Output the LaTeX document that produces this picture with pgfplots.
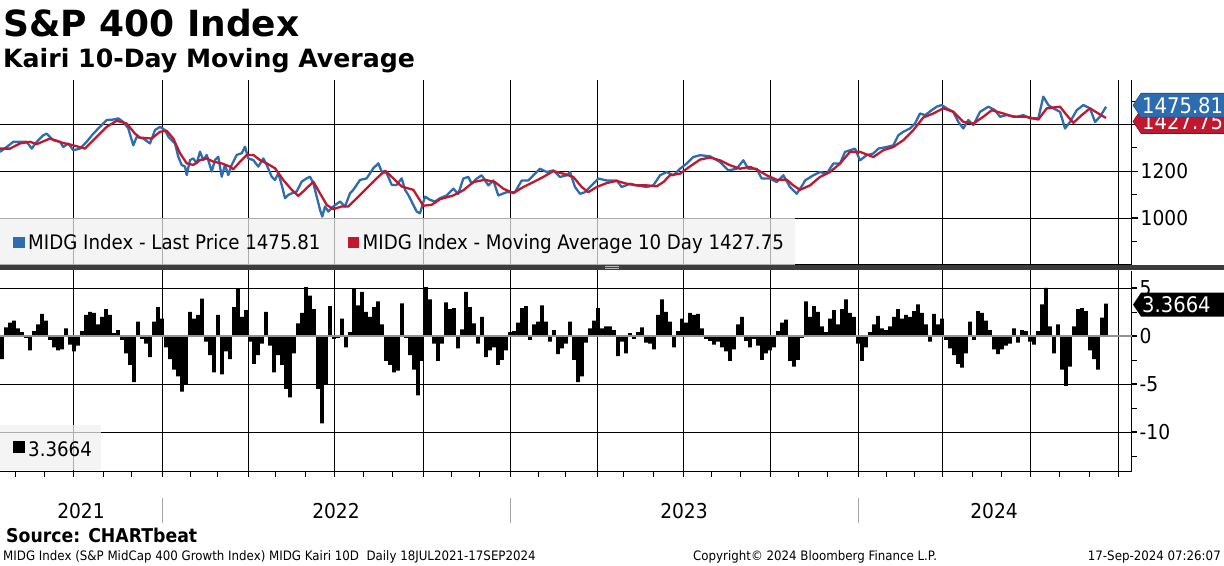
\documentclass[border=0pt]{standalone}
\usepackage{pgfplots}
\pgfplotsset{compat=1.18}
\usepackage{fontspec}
\setmainfont{DejaVu Sans}[FakeStretch=0.91]
\newfontfamily\boldf{DejaVu Sans Bold}
\definecolor{bbblue}{HTML}{2D6CAF}
\definecolor{bbblueD}{HTML}{1F4F85}
\definecolor{bbred}{HTML}{C0182F}
\definecolor{sepgray}{HTML}{3C3C3C}
\definecolor{legfill}{HTML}{F0F0F0}
\newcommand\fs[1]{\fontsize{#1bp}{#1bp}\selectfont}
\pgfplotsset{
  bbpanel/.style={
    anchor=south west, at={(0,0)}, scale only axis,
    width=1131.5bp, xmin=0, xmax=1131.5,
    axis y line*=right, axis x line*=bottom,
    axis line style={black, line width=1bp},
    xtick={73.5,162,248,334,423,510,597,683,770,858,942,1030,1118},
    xticklabels={},
    xmajorgrids, ymajorgrids,
    major grid style={black, line width=0.9bp},
    tick align=outside,
    every tick/.style={black, line width=1bp},
    ytick style={black, line width=1.6bp},
    minor y tick style={black, line width=0.9bp},
    yticklabel style={font=\fs{20.5}, inner sep=0pt, anchor=west, xshift=3bp},
    /pgf/number format/assume math mode=true,
    clip=false,
  }
}

\begin{document}
\begin{tikzpicture}[x=1bp,y=1bp]
\useasboundingbox (0,0) rectangle (1224,566);
\fill[white] (0,0) rectangle (1224,566);

%================ TOP PANEL =================
\begin{scope}[shift={(0bp,301bp)}]
\begin{axis}[bbpanel,
  height=185bp, ymin=800, ymax=1590,
  ytick={1000,1200,1400},
  yticklabels={1000,1200,{}},
  minor ytick={900,1100,1300,1500},
  major tick length=6bp, minor tick length=5bp,
]
\addplot[bbblue, line width=2.3bp, line join=round] table {
x y
0 1283
6.7 1304
13.3 1326
20 1326
26.7 1326
31.7 1297
36.7 1326
43.3 1354
46.7 1361
53.3 1333
60 1326
63.3 1304
68.3 1319
73.3 1290
80 1297
86.7 1326
93.3 1361
100 1390
106.7 1419
113.3 1421
118.3 1426
123.3 1411
128.3 1383
133.3 1311
136.7 1347
143.3 1340
150 1319
155 1376
160 1390
165 1376
168.3 1348
171.7 1333
175 1319
178.3 1262
181.7 1227
185 1220
186.7 1184
190 1248
193.3 1255
196.7 1234
200 1284
203.3 1248
206.7 1270
211.7 1199
215 1248
218.3 1262
221.7 1177
225 1227
228.3 1184
231.7 1227
236.7 1270
241.7 1277
245 1305
248.3 1255
253.3 1248
258.3 1220
263.3 1255
266.7 1227
271.7 1177
275 1163
278.3 1192
281.7 1142
285 1085
288.3 1099
291.7 1106
296.7 1114
301.7 1156
306.7 1170
310 1177
313.3 1149
316.7 1092
320 1036
322.3 1007
325 1050
328.3 1028
333.3 1050
340 1071
345 1050
350 1106
353.3 1121
360 1163
366.7 1170
373.3 1213
378.3 1234
381.7 1199
386.7 1192
391.7 1142
396.7 1142
401.7 1170
405 1121
408.3 1099
413.3 1057
416.7 1028
420 1021
425 1092
430 1078
435 1071
440 1085
446.7 1097
453.3 1126
458.3 1104
463.3 1169
468.3 1176
471.7 1147
476.7 1169
481.7 1183
488.3 1140
493.3 1161
498.3 1097
506.7 1111
515 1111
521.7 1161
528.3 1161
533.3 1183
540 1211
546.7 1197
553.3 1204
560 1176
566.7 1183
570 1197
575 1133
580 1104
585 1111
590 1133
598.3 1169
606.7 1161
616.7 1161
621.7 1133
630 1147
636.7 1140
646.7 1133
653.3 1140
660 1183
666.7 1197
673.3 1183
680 1211
686.7 1233
693.3 1261
700 1269
710 1264
720 1240
728.3 1204
736.7 1211
743.3 1247
748.3 1211
756.7 1211
761.7 1169
770 1169
776.7 1154
783.3 1183
790 1133
796.7 1104
803.3 1147
805 1161
813.3 1183
820 1197
826.7 1190
833.3 1233
840 1233
845 1283
850 1290
855 1297
860 1247
866.7 1269
873.3 1276
878.3 1297
886.7 1304
893.3 1311
898.3 1354
903.3 1369
910 1383
915 1404
920 1447
925 1440
931.7 1461
936.7 1476
941.7 1483
946.7 1469
953.3 1454
958.3 1411
963.3 1383
968.3 1419
973.3 1397
980 1454
988.3 1476
995 1461
1000 1433
1006.7 1440
1016.7 1433
1023.3 1440
1030 1426
1038.3 1426
1043.3 1519
1048.3 1483
1053.3 1469
1060 1454
1065 1383
1070 1411
1076.7 1461
1083.3 1483
1090 1469
1095 1411
1100 1433
1106 1475.81
};
\addplot[bbred, line width=2.3bp, line join=round] table {
x y
0 1297
10 1297
20 1319
30 1326
36.7 1316
50 1340
63.3 1321
73.3 1311
85 1297
96.7 1347
106.7 1390
116.7 1416
126.7 1404
135 1361
140 1344
151.7 1340
160 1369
166.7 1373
173.3 1340
180 1277
186.7 1234
193.3 1227
200 1248
206.7 1255
213.3 1241
221.7 1234
230 1220
233.3 1209
240 1241
246.7 1270
253.3 1270
260 1248
266.7 1234
275 1213
283.3 1163
291.7 1121
298.3 1095
305 1121
313.3 1156
320 1106
326.7 1057
333.3 1038
341.7 1050
348.3 1050
356.7 1085
366.7 1128
376.7 1170
385 1203
393.3 1170
401.7 1135
413.3 1121
423.3 1053
431.7 1057
440 1081
453.3 1097
463.3 1119
473.3 1154
485 1164
495 1154
503.3 1126
513.3 1107
523.3 1133
533.3 1154
543.3 1176
553.3 1201
563.3 1190
573.3 1176
581.7 1133
588.3 1111
596.7 1133
606.7 1150
616.7 1159
626.7 1147
636.7 1140
646.7 1140
656.7 1136
663.3 1154
670 1183
680 1190
690 1221
700 1250
710 1259
720 1247
730 1226
740 1211
750 1219
758.3 1204
766.7 1183
776.7 1164
786.7 1164
793.3 1140
800 1121
810 1140
820 1176
830 1197
840 1233
850 1283
860 1283
873.3 1261
883.3 1290
893.3 1304
903.3 1333
913.3 1376
923.3 1430
933.3 1447
943.3 1469
953.3 1454
963.3 1411
973.3 1404
983.3 1433
991.7 1461
1003.3 1447
1013.3 1433
1026.7 1433
1038.3 1421
1046.7 1469
1060 1476
1066.7 1440
1073.3 1407
1081.7 1440
1090 1469
1098.3 1447
1106 1427.75
};
\coordinate (bluelab) at (axis cs:1131.5,1475.81);
\coordinate (redlab) at (axis cs:1131.5,1427.75);
\end{axis}
\end{scope}

%================ BOTTOM PANEL =================
\begin{scope}[shift={(0bp,94bp)}]
\begin{axis}[bbpanel,
  height=201bp, ymin=-14.17, ymax=6.77,
  minor xtick={15.4,44.9,103,131.6,190.7,217.4,275.5,305,363.2,392.8,451,479.5,538.6,565.2,623.4,653,711,740.6,798.7,827.3,886.4,914,972.2,1001.7,1059.9,1089.4},
  ytick={-10,-5,0,5},
  yticklabels={{-10},{-5},0,5},
  minor ytick={-12.5,-7.5,-2.5,2.5},
  major tick length=5bp, minor tick length=5bp,
]
\addplot[ybar, bar width=3.75, fill=black, draw=none] table {
x y
2 -2.4
6 0.9
10 1.4
14 1.6
18 0.8
22 0.4
26 -0.2
30 -1.5
34 0.5
38 1.2
42 2.3
46 1.6
50 -0.4
54 -1.2
58 -1.5
62 -1.4
66 0.8
70 -0.9
74 -1.6
78 -1.0
82 0.5
86 2.2
90 2.5
94 2.4
98 1.2
102 2.0
106 2.8
110 2.2
114 0.3
118 0.6
122 -0.4
126 -1.8
130 -3.0
134 -4.8
138 1.5
142 -0.3
146 -0.8
150 -2.2
154 1.5
158 3.0
162 1.8
166 -1.2
170 -2.4
174 -3.5
178 -4.2
182 -5.8
186 -5.0
190 2.5
194 1.8
198 2.2
202 3.9
206 -0.6
210 -2.0
214 -3.8
218 2.2
222 -4.0
226 -1.6
230 -2.4
234 3.0
238 4.9
242 2.0
246 2.7
250 -0.6
254 -2.9
258 -2.0
262 -0.8
266 2.5
270 -1.0
274 -3.8
278 -2.0
282 -3.0
286 -5.5
290 -6.4
294 -1.8
298 1.3
302 2.4
306 5.1
310 4.2
314 2.8
318 -5.5
322 -9.1
326 -5.0
330 3.1
334 -0.3
338 -0.2
342 1.8
346 -1.2
350 0.4
354 4.9
358 3.2
362 4.6
366 2.5
370 2.0
374 3.0
378 3.6
382 1.2
386 -2.6
390 -3.0
394 -3.8
398 -3.6
402 3.4
406 -0.2
410 -2.0
414 -3.5
418 -6.2
422 -2.6
426 5.1
430 3.8
434 -0.8
438 -2.6
442 -0.8
446 3.5
450 2.8
454 2.9
458 -1.3
462 0.7
466 4.6
470 3.0
474 1.3
478 -0.8
482 2.0
486 -2.2
490 -1.5
494 -1.2
498 -3.0
502 -2.5
506 -1.5
510 0.4
514 0.5
518 1.4
522 2.9
526 3.1
530 -0.4
534 1.2
538 1.5
542 3.2
546 1.5
550 -0.6
554 0.6
558 -1.9
562 -1.3
566 -0.8
570 1.5
574 -2.5
578 -4.8
582 -4.2
586 -0.7
590 0.8
594 1.6
598 2.9
602 0.8
606 1.0
610 1.0
614 0.6
618 -2.1
622 -0.6
626 -1.8
630 0.3
634 -0.3
638 0.4
642 0.9
646 -0.7
650 -0.8
654 -1.4
658 2.2
662 3.8
666 2.5
670 1.5
674 -1.2
678 0.5
682 1.8
686 1.4
690 2.4
694 2.2
698 2.3
702 0.8
706 -0.3
710 -0.5
714 -0.9
718 -0.6
722 -1.2
726 -1.6
730 -2.6
734 -1.4
738 1.2
742 2.0
746 -0.5
750 -1.2
754 -0.3
758 -1.0
762 -2.5
766 -1.8
770 -1.5
774 -1.2
778 0.5
782 1.4
786 1.7
790 -2.6
794 -3.2
798 -2.5
802 -0.2
806 3.6
810 2.0
814 3.1
818 2.5
822 1.0
826 0.4
830 1.8
834 2.7
838 1.2
842 2.8
846 3.8
850 2.4
854 2.0
858 -0.8
862 -2.6
866 -1.2
870 0.4
874 1.2
878 2.1
882 0.8
886 0.6
890 1.0
894 2.0
898 2.8
902 1.8
906 2.2
910 2.0
914 2.6
918 3.3
922 2.4
926 1.2
930 -0.6
934 2.3
938 1.2
942 1.8
946 -0.4
950 -1.3
954 -2.0
958 -2.9
962 -3.3
966 -1.8
970 1.5
974 -0.4
978 2.6
982 2.4
986 1.6
990 0.6
994 -1.4
998 -1.9
1002 -1.4
1006 -1.0
1010 -0.8
1014 0.8
1018 -0.7
1022 0.6
1026 0.5
1030 -0.6
1034 -0.9
1038 0.5
1042 3.3
1046 5.0
1050 1.0
1054 -1.8
1058 1.2
1062 -3.5
1066 -5.2
1070 -3.2
1074 1.0
1078 2.8
1082 2.9
1086 2.6
1090 -1.5
1094 -2.4
1098 -3.5
1102 1.9
1106 3.3664
};
\draw[gray!85, line width=1.3bp] (axis cs:0,0) -- (axis cs:1131.5,0);
\coordinate (kairilab) at (axis cs:1131.5,3.3664);
\end{axis}
\end{scope}

%================ panel separator =================
\fill[sepgray] (0,296) rectangle (1224,301);
\draw[gray!55, line width=0.6bp] (605,299.2) -- (619,299.2);
\draw[gray!55, line width=0.6bp] (605,297.6) -- (619,297.6);

%================ legends =================
\fill[legfill, fill opacity=0.72] (0,301) rectangle (795,348);
\fill[bbblue] (13,317.5) rectangle (24.5,329);
\node[anchor=base west, inner sep=0pt, font=\fs{20}] at (28,316) {MIDG Index - Last Price 1475.81};
\fill[bbred] (347.5,317.5) rectangle (359,329);
\node[anchor=base west, inner sep=0pt, font=\fs{20}] at (362.5,316) {MIDG Index - Moving Average 10 Day 1427.75};

\fill[legfill, fill opacity=0.72] (0,96) rectangle (101,141);
\fill[black] (13,113) rectangle (24.5,124.5);
\node[anchor=base west, inner sep=0pt, font=\fs{20}] at (28,109) {3.3664};

%================ last value tags =================
\path (redlab) ++(0,-3.5) coordinate (rc);
\filldraw[fill=bbred, draw=bbred!70!black, line width=0.6bp]
  (rc) ++(1.5,0) -- ++(8,12) -- ++(95,0) -- ++(0,-24) -- ++(-95,0) -- cycle;
\node[anchor=west, inner sep=0pt, text=white, font=\fs{21.5}] at ([xshift=10.5bp]rc) {1427.75};
\path (bluelab) ++(0,1.5) coordinate (bc);
\filldraw[fill=bbblue, draw=bbblueD, line width=0.6bp]
  (bc) ++(1.5,0) -- ++(8,12) -- ++(95,0) -- ++(0,-24) -- ++(-95,0) -- cycle;
\node[anchor=west, inner sep=0pt, text=white, font=\fs{21.5}] at ([xshift=10.5bp]bc) {1475.81};
\path (kairilab) ++(0,-1) coordinate (kc);
\fill[black] (kc) ++(1.5,0) -- ++(8,12) -- ++(95,0) -- ++(0,-24) -- ++(-95,0) -- cycle;
\node[anchor=west, inner sep=0pt, text=white, font=\fs{21.5}] at ([xshift=10.5bp]kc) {3.3664};

%================ year labels =================
\foreach \xx/\yy in {81/2021,336/2022,684/2023,994/2024}
  \node[anchor=base, inner sep=0pt, font=\fs{20.5}] at (\xx,47) {\yy};
\foreach \xx in {162.5,510,858}
  \draw[gray!70, line width=1bp] (\xx,43) -- (\xx,68);

%================ titles and footer =================
\node[anchor=base west, inner sep=0pt, font=\boldf\fs{36}] at (3,529) {S\&P 400 Index};
\node[anchor=base west, inner sep=0pt, font=\boldf\fs{25.2}] at (3,498) {Kairi 10-Day Moving Average};
\node[anchor=base west, inner sep=0pt, font=\boldf\fs{19}] at (6,23) {\scalebox{0.91}[1]{Source: CHARTbeat}};
\node[anchor=base west, inner sep=0pt, font=\fs{13}] at (3,5) {MIDG Index (S\&P MidCap 400 Growth Index) MIDG Kairi 10D\ \ Daily 18JUL2021-17SEP2024};
\node[anchor=base west, inner sep=0pt, font=\fs{13}] at (693,5) {Copyright© 2024 Bloomberg Finance L.P.};
\node[anchor=base east, inner sep=0pt, font=\fs{13}] at (1221,5) {17-Sep-2024 07:26:07};
\end{tikzpicture}
\end{document}
